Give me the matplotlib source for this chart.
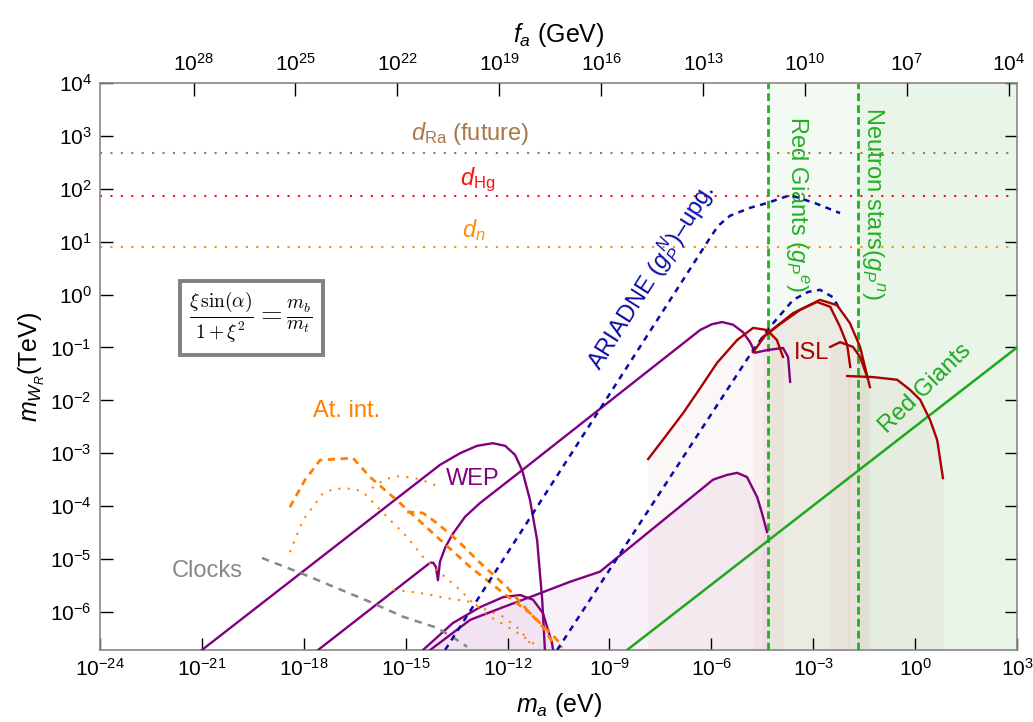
import numpy as np
import matplotlib
matplotlib.use("Agg")
import matplotlib.pyplot as plt

plt.rcParams['font.family'] = ['Liberation Sans', 'DejaVu Sans']
plt.rcParams['mathtext.fontset'] = 'custom'
plt.rcParams['mathtext.rm'] = 'Liberation Sans'
plt.rcParams['mathtext.it'] = 'Liberation Sans:italic'
plt.rcParams['mathtext.bf'] = 'Liberation Sans:bold'

# ---- data (log10 of m_a [eV] and log10 of m_WR [TeV]) ----
x_exp = [-24, -21, -18, -15, -12, -9, -6, -3, 0, 3]
y_exp = [-6, -5, -4, -3, -2, -1, 0, 1, 2, 3, 4]
fa_exp = [28, 25, 22, 19, 16, 13, 10, 7, 4]
fa_to_ma = 5.7e6          # m_a[eV] = 5.7e6 / f_a[GeV]
y_bottom = -6.72

edm_names = [r'$d_{\rm Ra}$ (future)', r'$d_{\rm Hg}$', r'$d_n$']
edm_levels = [2.68, 1.864, 0.90]
edm_label_pos = [(-13.1, 3.05), (-12.87, 2.17), (-13.0, 1.22)]

rg_e_bound = -4.33        # red giants g_P^e
ns_bound = -1.68          # neutron stars g_P^n
rg_line_x = [-8.48, 3.0]
rg_line_y = [-6.72, -1.0]

wep1_x = [-21.0, -13.99, -13.40, -12.90, -12.43, -12.07, -11.78, -11.57, -11.34, -11.13, -10.98, -10.90]
wep1_y = [-6.72, -3.22, -3.00, -2.86, -2.81, -2.86, -3.03, -3.32, -3.88, -4.64, -5.77, -6.72]
wep2_x = [-17.58, -14.28, -14.19, -14.11, -14.05, -13.99, -13.84, -13.63, -13.25, -12.81, -12.31, -11.57,
          -6.33, -5.98, -5.68, -5.36, -5.07, -4.86, -4.71, -4.36, -3.89, -3.74, -3.68]
wep2_y = [-6.72, -5.07, -5.07, -5.15, -5.40, -5.05, -4.79, -4.54, -4.20, -3.94, -3.69, -3.32,
          -0.67, -0.56, -0.52, -0.57, -0.71, -0.90, -1.10, -1.05, -1.01, -1.18, -1.65]
wep3_x = [-14.49, -13.61, -12.81, -12.13, -11.63, -11.25, -10.96, -10.69, -10.66]
wep3_y = [-6.72, -6.21, -5.91, -5.72, -5.68, -5.77, -6.02, -6.59, -6.72]
wep4_x = [-14.28, -13.10, -12.13, -11.34, -10.16, -9.28, -5.95, -5.54, -5.24, -4.95, -4.65, -4.51, -4.36]
wep4_y = [-6.72, -6.15, -5.91, -5.72, -5.43, -5.24, -3.50, -3.41, -3.37, -3.45, -3.83, -4.13, -4.49]

at1_x = [-18.41, -17.96, -17.52, -16.55, -16.05, -15.17, -14.08, -13.10, -12.13, -11.34, -10.54, -10.40]
at1_y = [-4.02, -3.50, -3.13, -3.09, -3.45, -3.94, -4.58, -5.15, -5.64, -6.02, -6.53, -6.68]
at2_x = [-14.96, -14.49, -14.08, -13.49, -12.81, -12.02, -11.43, -10.96, -10.66]
at2_y = [-4.11, -4.13, -4.32, -4.64, -5.07, -5.53, -5.96, -6.28, -6.59]
at3_x = [-18.41, -18.02, -17.43, -17.08, -16.55, -16.26, -16.05, -15.46, -14.96, -14.49, -14.08,
         -13.49, -13.02, -12.52, -11.84, -11.25, -11.04]
at3_y = [-4.87, -4.26, -3.75, -3.67, -3.67, -3.73, -3.87, -4.26, -4.58, -4.96, -5.21,
         -5.53, -5.83, -6.09, -6.34, -6.59, -6.68]
at4_x = [-15.99, -15.61, -15.17, -14.58, -13.99]
at4_y = [-3.66, -3.49, -3.43, -3.49, -3.64]
at5_x = [-15.37, -14.58, -13.78, -13.10, -12.81, -12.13, -11.63, -11.34, -11.25]
at5_y = [-5.58, -5.64, -5.74, -5.81, -5.91, -6.09, -6.34, -6.59, -6.72]

clock_x = [-19.23, -18.11, -16.05, -15.08, -14.08, -13.49, -13.19]
clock_y = [-4.98, -5.26, -5.81, -6.09, -6.30, -6.53, -6.66]

ari1_x = [-13.84, -6.04, -5.80, -5.45, -4.86, -4.36, -3.68, -2.95, -2.21]
ari1_y = [-6.72, 1.07, 1.30, 1.49, 1.64, 1.73, 1.88, 1.73, 1.54]
ari2_x = [-10.54, -4.77, -4.27, -3.59, -3.15, -2.80, -2.42, -2.21]
ari2_y = [-6.72, -1.05, -0.61, -0.10, 0.05, 0.09, -0.05, -0.29]

isl1_x = [-7.86, -7.36, -6.83, -6.33, -5.83, -5.24, -4.77, -4.36, -4.07, -3.89]
isl1_y = [-3.11, -2.69, -2.24, -1.77, -1.29, -0.86, -0.63, -0.67, -0.86, -1.18]
isl2_x = [-4.77, -4.42, -3.98, -3.39, -2.89, -2.50, -2.21, -2.00, -1.91]
isl2_y = [-1.09, -0.78, -0.56, -0.29, -0.14, -0.23, -0.61, -0.95, -1.37]
isl3_x = [-4.48, -3.59, -2.80, -2.30, -1.92, -1.62, -1.33]
isl3_y = [-0.80, -0.35, -0.10, -0.20, -0.54, -0.99, -1.75]
isl4_x = [-2.50, -2.21, -1.83, -1.62, -1.41]
isl4_y = [-0.99, -0.90, -0.99, -1.18, -1.56]
isl5_x = [-2.00, -1.24, -0.53, -0.15, 0.15, 0.44, 0.65, 0.82]
isl5_y = [-1.54, -1.56, -1.61, -1.80, -1.99, -2.37, -2.75, -3.47]


def p(a):
    return 10.0 ** np.asarray(a, dtype=float)


purple = '#800080'
orange = '#ff8000'
blue = '#0a0aa8'
darkred = '#aa0000'
green = '#1fa81f'
gray = '#888888'
fs = 17

fig = plt.figure(figsize=(10.33, 7.22), dpi=100)
ax = fig.add_axes([100 / 1033, 72 / 722, 917 / 1033, 567 / 722])
ax.set_xscale('log')
ax.set_yscale('log')
ax.set_xlim(p(-24), p(3))
ax.set_ylim(p(y_bottom), p(4))
ybot = p(y_bottom)

# shaded regions
ax.axvspan(p(rg_e_bound), p(3), color=green, alpha=0.05, lw=0, zorder=0)
ax.axvspan(p(ns_bound), p(3), color=green, alpha=0.05, lw=0, zorder=0)
for xs, ys in [(isl1_x, isl1_y), (isl2_x, isl2_y), (isl3_x, isl3_y), (isl4_x, isl4_y), (isl5_x, isl5_y)]:
    ax.fill_between(p(xs), p(ys), ybot, color='#a04030', alpha=0.04, lw=0, zorder=1)
for xs, ys in [(wep3_x, wep3_y), (wep4_x, wep4_y)]:
    ax.fill_between(p(xs), p(ys), ybot, color=purple, alpha=0.055, lw=0, zorder=1)

# EDM lines
edm_colors = ['#a8784a', '#ff1010', '#ff8c10']
for lvl, c in zip(edm_levels, edm_colors):
    ax.axhline(p(lvl), color=c, lw=1.5, ls=(0, (1, 4)), zorder=2)
for name, (tx, ty), c in zip(edm_names, edm_label_pos, edm_colors):
    ax.text(p(tx), p(ty), name, color=c, fontsize=fs, ha='center', va='center')

# astro bounds
ax.axvline(p(rg_e_bound), color='#22b022', lw=2.0, ls=(0, (2.8, 1.5)), zorder=3)
ax.axvline(p(ns_bound), color='#22b022', lw=2.0, ls=(0, (2.8, 1.5)), zorder=3)
ax.plot(p(rg_line_x), p(rg_line_y), color=green, lw=1.8, zorder=3)

# WEP
for xs, ys in [(wep1_x, wep1_y), (wep2_x, wep2_y), (wep3_x, wep3_y), (wep4_x, wep4_y)]:
    ax.plot(p(xs), p(ys), color=purple, lw=1.7, zorder=4)

# atom interferometry
ax.plot(p(at1_x), p(at1_y), color=orange, lw=2.0, ls=(0, (2.6, 2.0)), zorder=4)
ax.plot(p(at2_x), p(at2_y), color=orange, lw=2.0, ls=(0, (2.6, 2.0)), zorder=4)
for xs, ys in [(at3_x, at3_y), (at4_x, at4_y), (at5_x, at5_y)]:
    ax.plot(p(xs), p(ys), color=orange, lw=1.5, ls=(0, (1, 3.5)), zorder=4)

# clocks
ax.plot(p(clock_x), p(clock_y), color=gray, lw=1.8, ls=(0, (3, 2.5)), zorder=4)

# ARIADNE
ax.plot(p(ari1_x), p(ari1_y), color=blue, lw=1.8, ls=(0, (2.4, 2.2)), zorder=5)
ax.plot(p(ari2_x), p(ari2_y), color=blue, lw=1.8, ls=(0, (2.4, 2.2)), zorder=5)

# ISL
for xs, ys in [(isl1_x, isl1_y), (isl2_x, isl2_y), (isl3_x, isl3_y), (isl4_x, isl4_y), (isl5_x, isl5_y)]:
    ax.plot(p(xs), p(ys), color=darkred, lw=1.7, zorder=5)

# labels
ax.text(p(-16.73), p(-2.20), 'At. int.', color=orange, fontsize=fs, ha='center', va='center')
ax.text(p(-20.85), p(-5.22), 'Clocks', color=gray, fontsize=fs, ha='center', va='center')
ax.text(p(-13.02), p(-3.49), 'WEP', color=purple, fontsize=fs, ha='center', va='center')
ax.text(p(-3.06), p(-1.10), 'ISL', color=darkred, fontsize=fs, ha='center', va='center')
ax.text(p(-7.75), p(0.33), r'ARIADNE ($g_P^{\,N}$)–upg.', color=blue, fontsize=fs,
        ha='center', va='center', rotation=57.5, rotation_mode='anchor')
ax.text(p(-3.48), p(1.71), r'Red Giants ($g_P{}^e$)', color='#22b022', fontsize=fs,
        ha='center', va='center', rotation=-90, rotation_mode='anchor')
ax.text(p(-1.24), p(1.73), r'Neutron stars($g_P{}^n$)', color='#22b022', fontsize=fs,
        ha='center', va='center', rotation=-90, rotation_mode='anchor')
ax.text(p(0.29), p(-1.77), 'Red Giants', color=green, fontsize=fs,
        ha='center', va='center', rotation=44, rotation_mode='anchor')

ax.text(p(-19.55), p(-0.44), r'$\frac{\xi\,\sin(\alpha)}{1+\xi^2}=\frac{m_b}{m_t}$',
        fontsize=20, ha='center', va='center', math_fontfamily='cm',
        bbox=dict(boxstyle='square,pad=0.35', fc='white', ec='#808080', lw=2.8), zorder=6)

# axes styling
ax.set_xticks(p(x_exp))
ax.set_xticklabels([r'$10^{%d}$' % e for e in x_exp])
ax.set_yticks(p(y_exp))
ax.set_yticklabels([r'$10^{%d}$' % e for e in y_exp])
ax.minorticks_off()
ax.tick_params(which='both', direction='in', length=9, width=1, labelsize=15,
               right=True, top=False, pad=6)
for s in ax.spines.values():
    s.set_color(gray)
    s.set_linewidth(1.2)
ax.set_xlabel(r'$m_a$ (eV)', fontsize=18, labelpad=8)
ax.set_ylabel(r'$m_{W_R}$(TeV)', fontsize=18, labelpad=2)

ax2 = ax.twiny()
ax2.set_xscale('log')
ax2.set_xlim(ax.get_xlim())
ax2.set_xticks([fa_to_ma / p(e) for e in fa_exp])
ax2.set_xticklabels([r'$10^{%d}$' % e for e in fa_exp])
ax2.minorticks_off()
ax2.tick_params(direction='in', length=9, width=1, labelsize=15, pad=6)
for s in ax2.spines.values():
    s.set_visible(False)
ax2.set_xlabel(r'$f_a$ (GeV)', fontsize=18, labelpad=8)

fig.savefig('out.png', dpi=100)
